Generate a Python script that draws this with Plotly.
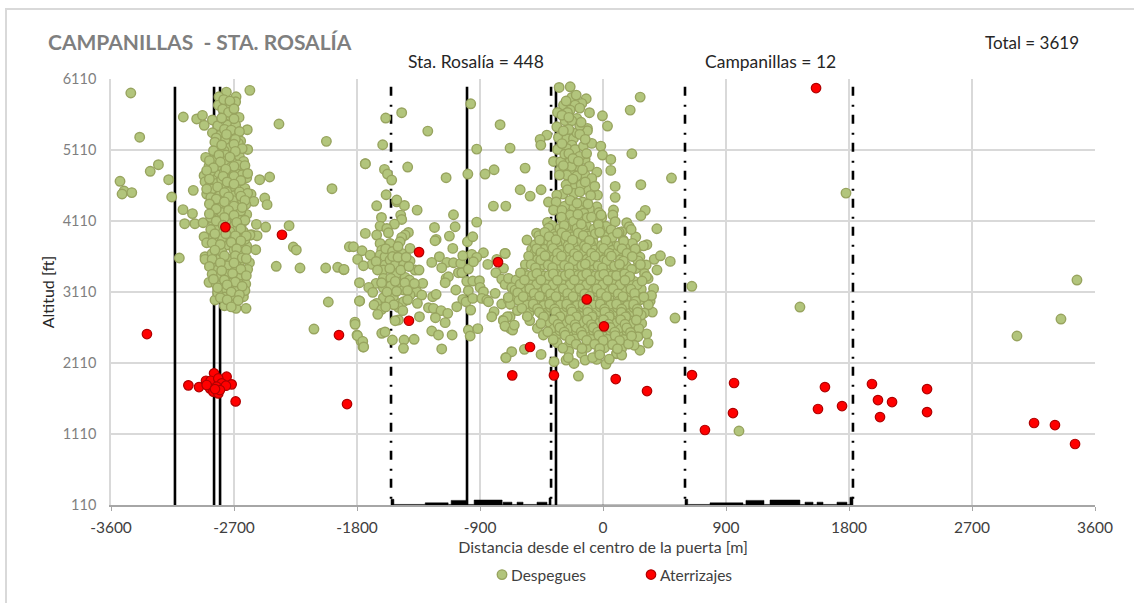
import plotly.graph_objects as go

FONT = "Lato"
x_ticks = [-3600, -2700, -1800, -900, 0, 900, 1800, 2700, 3600]
x_labels = ["-3600", "-2700", "-1800", "-900", "0", "900", "1800", "2700", "3600"]
y_ticks = [110, 1110, 2110, 3110, 4110, 5110, 6110]
y_labels = ["110", "1110", "2110", "3110", "4110", "5110", "6110"]

solid_x = [-3132, -2846, -2802, -995, -344]
dashdot_x = [-1551, -380, 600, 1829]
line_top = 6000
line_bottom = 110

terrain_x = [-1551, -1551, -1530, -1530, -1301, -1301, -1133, -1133, -1111, -1111, -995, -995, -943, -943, -738, -738, -731, -731, -666, -666, -629, -629, -585, -585, -483, -483, -410, -410, -395, -395, -380, -380,
             600, 600, 620, 620, 783, 783, 1024, 1024, 1046, 1046, 1178, 1178, 1222, 1222, 1441, 1441, 1478, 1478, 1537, 1537, 1566, 1566, 1610, 1610, 1712, 1712, 1785, 1785, 1807, 1807, 1829, 1829]
terrain_y = [110, 190, 190, 118, 118, 140, 140, 118, 118, 175, 175, 118, 118, 180, 180, 118, 118, 150, 150, 118, 118, 150, 150, 118, 118, 150, 150, 118, 118, 210, 210, 110,
             110, 190, 190, 118, 118, 140, 140, 118, 118, 175, 175, 118, 118, 180, 180, 118, 118, 150, 150, 118, 118, 150, 150, 118, 118, 150, 150, 118, 118, 220, 220, 110]

dep_left_outliers = [(-3455,5913),(-3390,5290),(-3253,4903),(-3313,4810),(-3178,4692),(-3534,4669),(-3504,4532),(-3519,4490),(-3448,4510),(-3156,4448),(-2998,4542),(-3073,4270),(-3004,4214),(-3061,4072),(-2986,4072),(-2926,4086),(-3100,3589),(-3071,5575),(-2973,5547),(-2931,5598),(-2858,5533),(-2918,5458),
 (-2371,5476),(-2603,5396),(-2584,5950),(-2024,5232),(-1983,4565),(-1739,4917),(-2512,4692),(-2439,4730),(-2475,4434),(-2458,4340),(-2536,4063),(-2468,4025),(-2297,4044),(-2266,3743),(-2244,3702),(-2391,3472),(-2217,3448),(-2029,3448),(-1941,3458),(-1897,3424),(-2010,2969),(-1780,2983),(-2575,4487),(-2555,4387),(-2570,3917),(-2531,3903),(-2541,3706),(-2115,2588),(-1815,2686),(-1800,2504),(-1771,2419),(-1756,2335)]

dep_left_column = [(-2756,5925),(-2685,5860),(-2688,5789),(-2810,5860),(-2814,5742),(-2761,5752),(-2724,5719),(-2783,5686),(-2729,5592),(-2663,5569),(-2746,5461),(-2688,5461),(-2819,5452),(-2858,5353),(-2797,5320),(-2717,5306),(-2766,5250),(-2651,5236),(-2814,5165),(-2729,5142),(-2668,5203),(-2600,5118),(-2773,5100),(-2907,5006),(-2839,5015),(-2700,4977),(-2661,5024),(-2883,4884),(-2790,4874),(-2656,4837),(-2627,4827),(-2919,4748),(-2851,4804),(-2741,4724),(-2814,4757),(-2912,4663),(-2858,4687),(-2607,4719),(-2680,4687),(-2778,4569),(-2717,4593),(-2827,4640),(-2900,4489),(-2839,4499),(-2636,4499),(-2807,4466),(-2700,4466),(-2753,4522),(-2863,4311),(-2802,4325),(-2741,4358),(-2680,4349),(-2614,4344),(-2851,4241),(-2761,4217),(-2692,4255),(-2607,4203),(-2802,4161),(-2644,4147),(-2851,4086),(-2717,4109),(-2648,4044),(-2802,3936),(-2729,4030),(-2631,3959),(-2919,3889),(-2900,3804),(-2736,3875),(-2680,3879),(-2583,3912),(-2831,3757),(-2753,3771),(-2607,3757),(-2656,3795),(-2802,3607),(-2729,3574),(-2912,3607),(-2912,3570),(-2851,3513),(-2656,3546),(-2587,3523),(-2778,3433),(-2705,3429),(-2600,3429),(-2883,3246),(-2831,3222),(-2729,3302),(-2656,3278),(-2614,3222),(-2705,3194),(-2778,3138),(-2839,2997),(-2680,3138),(-2631,3044),(-2709,2988),(-2770,2917),(-2612,2880),(-2685,2880),
 (-2760,5040),(-2835,4960),(-2760,4950),(-2630,4950),(-2720,4870),(-2870,4810),(-2770,4800),(-2690,4790),(-2880,4590),(-2790,4690),(-2650,4620),(-2620,4570),(-2860,4560),(-2760,4430),(-2640,4410),(-2840,4390),(-2710,4400),(-2790,4230),(-2650,4250),(-2730,4170),(-2870,4160),(-2760,4100),(-2840,4010),(-2680,3980),(-2790,3860),(-2850,3880),(-2620,3850),(-2700,3700),(-2790,3680),(-2860,3650),(-2630,3650),(-2750,3480),(-2820,3420),(-2680,3470),(-2740,3360),(-2800,3330),(-2650,3350),(-2700,3060),(-2770,3040),(-2620,3130),(-2820,3100),
 (-2775,5820),(-2730,5800),(-2740,5640),(-2700,5690),(-2790,5560),(-2700,5550),(-2770,5400),(-2720,5390),(-2660,5370),(-2830,5280),(-2755,5330),(-2690,5260),(-2840,5220),(-2790,5180),(-2700,5190),(-2640,5130),(-2850,5100),(-2690,5090),(-2810,5040),(-2730,5010),(-2880,4960),(-2670,4900),(-2800,4940),(-2700,4880),(-2850,4860),(-2620,4890),(-2760,4840),(-2900,4820),(-2640,4760),(-2780,4740),(-2700,4740),(-2600,4780),(-2880,4700),(-2750,4660),(-2650,4680),(-2820,4590),(-2700,4630),(-2900,4560),(-2770,4510),(-2660,4520),(-2600,4500),(-2870,4440),(-2740,4450),(-2650,4460),(-2830,4420),(-2770,4380),(-2620,4400),(-2880,4350),(-2700,4320),(-2640,4300),(-2830,4280),(-2740,4260),(-2880,4210),(-2700,4190),(-2770,4160),(-2620,4120),(-2830,4110),(-2680,4090),(-2780,4050),(-2650,4000),(-2870,3990),(-2730,3960),(-2610,3900),(-2840,3930),(-2760,3930),(-2690,3900),(-2650,3830),(-2720,3810),(-2860,3800),(-2800,3780),(-2610,3700),(-2680,3720),(-2770,3620),(-2840,3700),(-2690,3620),(-2640,3590),(-2860,3570),(-2800,3520),(-2700,3520),(-2610,3580),(-2880,3470),(-2650,3430),(-2790,3410),(-2710,3370),(-2860,3360),(-2610,3340),(-2770,3280),(-2690,3250),(-2850,3290),(-2640,3190),(-2750,3210),(-2820,3170),(-2720,3110),(-2660,3070),(-2800,3030),(-2750,3000),(-2670,2990),(-2720,2900)]

dep_mid_left = [(-1656,4324),(-1509,4380),(-1453,4329),(-1360,4263),(-1621,4160),(-1480,4193),(-1473,4132),(-1526,4066),(-1631,4038),(-1582,4005),(-1739,3935),(-1656,3912),(-1570,3944),(-1424,3949),(-1448,3912),(-1473,3879),(-1485,3818),(-1558,3794),(-1631,3794),(-1619,3700),(-1631,3630),(-1856,3747),(-1826,3747),(-1763,3691),(-1795,3569),(-1704,3630),(-1690,3499),(-1753,3480),(-1895,3428),(-1595,3607),(-1595,3489),(-1607,3419),(-1558,3560),(-1473,3654),(-1412,3724),(-1478,3546),(-1412,3546),(-1521,3489),(-1460,3489),(-1375,3419),(-1346,3419),(-1509,3372),(-1607,3302),(-1553,3302),(-1448,3316),(-1416,3278),(-1504,3232),(-1660,3232),(-1782,3241),(-1714,3175),(-1685,3105),(-1607,3170),(-1553,3194),(-1460,3138),(-1399,3161),(-1319,3232),(-1363,3114),(-1326,3067),(-1412,3067),(-1534,3034),(-1607,3030),(-1656,2950),(-1675,2927),(-1619,2866),(-1648,2795),(-1485,2950),(-1460,2973),(-1497,2894),(-1465,2847),(-1358,2950),(-1246,3044),(-1221,3077),(-1497,2716),(-1521,2706),(-1343,2762),(-1782,2983),(-1814,2655),(-1797,2495),(-1758,2415),(-1751,2336),(-1619,2528),(-1595,2547),(-1541,2434),(-1382,2444),(-1456,2434),(-1460,2317),
 (-1590,3720),(-1540,3680),(-1500,3750),(-1660,3540),(-1540,3610),(-1500,3600),(-1440,3600),(-1650,3420),(-1560,3440),(-1480,3420),(-1420,3470),(-1620,3240),(-1520,3260),(-1450,3240),(-1380,3230),(-1580,3110),(-1510,3120),(-1430,3130),(-1560,2990),(-1430,3000),(-1530,2930),(-1590,2900)]

dep_mid_right = [(-1233,4019),(-1094,4198),(-924,4094),(-1082,4029),(-1124,3897),(-1221,3851),(-1229,3832),(-1099,3724),(-1253,3527),(-1197,3607),(-1143,3527),(-1094,3522),(-1041,3513),(-1180,3452),(-1058,3382),(-1033,3382),(-985,3433),(-992,3818),(-953,3888),(-875,3663),(-960,3640),(-1026,3621),(-924,3597),(-948,3536),(-1148,3302),(-1131,3325),(-1155,3241),(-1077,3138),(-997,3260),(-953,3264),(-904,3269),(-899,3175),(-875,3114),(-985,3128),(-1026,3006),(-1002,2973),(-1070,2903),(-953,3020),(-887,3020),(-850,2997),(-789,3091),(-843,3499),(-777,3569),(-716,3654),(-728,3443),(-784,3382),(-741,3292),(-716,3217),(-692,3302),(-838,2973),(-741,2941),(-797,2833),(-814,2762),(-968,2856),(-1277,2889),(-1241,2880),(-1185,2847),(-1136,2809),(-1226,2748),(-1155,2678),(-1253,2561),(-1204,2505),(-1104,2505),(-985,2575),(-916,2594),(-972,2491),(-1180,2308),(-802,4320),(-711,4320),(-728,2716),(-716,2631),(-680,2598),(-711,2186),(-680,2762),(-692,2997)]

dep_upper = [(-1590,5560),(-1473,5635),(-1282,5376),(-1612,5184),(-1739,4916),(-1599,4837),(-1429,4870),(-1577,4771),(-1546,4687),(-1148,4720),(-989,4771),(-968,5761),(-924,5123),(-753,5466),(-680,5137),(-797,4832),(-863,4771),(-570,4855),(-606,4550),(-533,4461),(-453,4550),(-1587,4480),(-1509,4405)]

dep_tower = [(-321,5991),(-240,6000),(-228,5850),(-196,5883),(-123,5832),(-155,5766),(-204,5742),(-289,5742),(-240,5672),(-333,5639),(-260,5639),(-192,5555),(-277,5522),(-228,5522),(-99,5635),(-4,5592),(33,5447),(-114,5414),(-114,5381),(-338,5437),(-411,5320),(-460,5259),(-455,5179),(-326,5287),(-265,5273),(-216,5273),(-192,5353),(-228,5179),(-265,5132),(-204,5118),(-143,5165),(-82,5203),(-16,5165),(-333,5118),(-4,5039),(57,4977),(-131,4977),(-240,4968),(-362,4949),(-309,4945),(-314,4827),(-240,4827),(-179,4874),(57,4823),(-45,4799),(-131,4757),(-192,4743),(-265,4757),(-319,4757),(-82,4710),(-209,4630),(-123,4555),(89,4597),(-40,4475),(89,4443),(-211,4499),(-294,4489),(-338,4475),(-399,4377),(-343,4377),(-45,4311),(-148,4377),(-216,4311),(-167,4264),(77,4264),(72,4194),(-9,4161),(-114,4180),(-179,4170),(-240,4194),(-406,4090),(89,4100),(-362,4264),
 (-250,5400),(-170,5450),(-280,5050),(-170,5020),(-120,5060),(-230,4880),(-100,4880),(-270,4620),(-160,4620),(-60,4600),(-280,4320),(-100,4280),
 (-270,5800),(-170,5700),(-300,5600),(-250,5570),(-160,5500),(-290,5380),(-170,5330),(-130,5260),(-300,5200),(-250,5060),(-220,4990),(-180,4950),(-290,4890),(-150,4830),(-220,4700),(-130,4660),(-260,4550),(-170,4520),(-90,4470),(-240,4400),(-110,4350),(-190,4360),(-300,4260),(-140,4220),(-30,4230)]

dep_right_sparse = [(272,5855),(199,5672),(211,5057),(501,4715),(277,4621),(309,4260),(277,4184),(394,4001),(174,4086),(192,4030),(138,3959),(240,3884),(321,3776),(492,3541),(375,3570),(370,3157),(650,3190),(1778,4503),(527,2743),(1441,2898),(3029,2490),(3351,2729),(3468,3278),(995,1152),(361,2827),(283,2668),(320,2520),(330,3300),(395,3420),(345,2980),(420,3620),(355,3060),(330,2390),(270,2290)]

dep_main_cloud = [(-372,4045),(-296,4128),(-248,4032),(-161,4118),(-121,4042),(-38,4112),(22,4036),
 (-486,3938),(-398,4012),(-352,3928),(-271,4002),(-238,3918),(-150,4008),(-112,3926),(-26,4002),(33,3915),(118,3950),(206,3990),
 (-556,3842),(-470,3904),(-431,3822),(-347,3893),(-314,3812),(-226,3888),(-191,3806),(-106,3898),(-72,3815),(18,3890),(55,3806),(148,3842),(215,3795),
 (-522,3708),(-466,3792),(-428,3712),(-336,3790),(-302,3702),(-218,3782),(-182,3698),(-92,3790),(-58,3704),(34,3782),(68,3698),(160,3735),(230,3700),(296,3760),
 (-497,3672),(-462,3600),(-376,3678),(-343,3596),(-256,3672),(-222,3588),(-136,3674),(-102,3594),(-16,3680),(22,3596),(108,3672),(142,3590),(242,3662),(270,3602),
 (-568,3496),(-478,3568),(-443,3490),(-356,3570),(-322,3484),(-238,3562),(-202,3478),(-116,3570),(-78,3484),(9,3564),(42,3480),(128,3562),(168,3486),(256,3548),(316,3490),
 (-585,3376),(-496,3452),(-462,3370),(-376,3448),(-344,3364),(-256,3454),(-218,3368),(-131,3450),(-98,3364),(-6,3452),(28,3370),(115,3448),(152,3364),(240,3442),(304,3370),
 (-636,3278),(-548,3342),(-514,3260),(-426,3338),(-394,3254),(-301,3340),(-268,3260),(-181,3344),(-148,3254),(-56,3338),(-24,3260),(64,3338),(102,3254),(190,3332),(228,3260),(318,3328),
 (-668,3172),(-576,3140),(-544,3224),(-456,3146),(-424,3230),(-336,3140),(-304,3224),(-211,3146),(-178,3230),(-91,3146),(-58,3230),(29,3146),(68,3224),(154,3146),(192,3226),(280,3150),
 (-654,3050),(-566,3032),(-534,3114),(-446,3036),(-414,3120),(-321,3030),(-288,3114),(-201,3036),(-164,3120),(-76,3036),(-44,3114),(44,3036),(82,3114),(170,3030),(206,3110),(290,3036),
 (-678,2938),(-586,3008),(-554,2926),(-466,3004),(-434,2920),(-346,3010),(-314,2926),(-226,3004),(-189,2920),(-101,3004),(-69,2926),(24,3010),(56,2926),(144,3004),(181,2920),(270,3000),(332,2930),
 (-626,2848),(-541,2816),(-509,2900),(-421,2810),(-384,2894),(-296,2816),(-264,2900),(-176,2810),(-144,2894),(-51,2816),(-19,2900),(69,2810),(106,2890),(194,2810),(226,2890),(302,2815),
 (-536,2708),(-446,2790),(-414,2700),(-326,2784),(-294,2706),(-201,2790),(-169,2700),(-81,2784),(-49,2706),(44,2790),(76,2700),(164,2780),(201,2706),(280,2785),
 (-480,2600),(-391,2680),(-359,2590),(-271,2674),(-239,2596),(-146,2680),(-114,2596),(-26,2674),(11,2590),(99,2674),(131,2590),(219,2670),(262,2596),
 (-436,2505),(-346,2480),(-314,2564),(-226,2480),(-194,2560),(-101,2475),(-69,2560),(19,2480),(56,2560),(144,2480),(176,2555),(255,2480),
 (-336,2395),(-246,2372),(-209,2450),(-121,2365),(-89,2445),(-1,2365),(31,2445),(119,2365),(151,2440),(228,2360),
 (-250,2275),(-156,2245),(-119,2330),(-31,2250),(11,2325),(99,2240),(136,2315),
 (-270,2151),(-212,2104),(-131,2151),(-46,2161),(22,2095),(-358,2128),(100,2245),(137,2222),(186,2377),(-668,2269),(-710,2184),(-575,2302),(-453,2231),(-180,1926),
 (-644,3137),(-693,3034),(-700,2761),(-729,2705),(-717,2630),(-661,2574),(-649,2644),(-717,3653)]

dep_main_fill = [(-216,4105),(-184,4205),(-304,4165),(-116,4155),(-84,4165),(-14,4195),
 (-316,4005),(-284,4045),(-191,4005),(-159,4065),(-66,3995),(-34,4060),(59,3985),
 (-426,3950),(-394,3890),(-301,3945),(-269,3900),(-181,3940),(-144,3905),(-56,3930),(-24,3950),(69,3880),(106,3940),
 (-496,3775),(-464,3840),(-376,3770),(-344,3845),(-256,3760),(-224,3840),(-136,3760),(-99,3835),(-11,3765),(21,3835),(114,3760),(151,3825),
 (-486,3720),(-454,3665),(-366,3725),(-334,3655),(-246,3725),(-209,3650),(-121,3730),(-84,3655),(4,3725),(46,3655),(139,3720),(176,3655),(236,3715),
 (-544,3615),(-456,3560),(-424,3620),(-336,3555),(-304,3615),(-216,3550),(-184,3615),(-96,3545),(-59,3615),(29,3550),(61,3615),(149,3545),(214,3610),
 (-526,3495),(-494,3450),(-401,3490),(-369,3455),(-281,3485),(-249,3455),(-156,3480),(-129,3505),(-36,3480),(-4,3450),(84,3475),(121,3500),(209,3430),(274,3495),
 (-604,3380),(-516,3340),(-484,3370),(-396,3340),(-364,3365),(-276,3340),(-244,3365),(-151,3340),(-119,3365),(-26,3340),(6,3360),(99,3340),(159,3365),(196,3330),
 (-606,3220),(-574,3280),(-486,3215),(-454,3280),(-366,3210),(-334,3275),(-241,3210),(-209,3280),(-121,3210),(-89,3275),(-1,3210),(36,3275),(124,3210),(161,3275),(249,3210),(286,3265),
 (-624,3100),(-536,3155),(-504,3090),(-416,3155),(-384,3085),(-291,3155),(-259,3090),(-171,3155),(-134,3085),(-46,3155),(-14,3090),(74,3155),(111,3085),(204,3150),(231,3090),
 (-616,2990),(-584,3045),(-496,2985),(-464,3050),(-376,2980),(-344,3045),(-256,2980),(-219,3045),(-131,2980),(-99,3050),(-11,2975),(26,3045),(114,2980),(146,3045),(239,2980),(299,3040),
 (-594,2880),(-511,2940),(-479,2875),(-391,2940),(-354,2870),(-266,2940),(-234,2870),(-146,2940),(-114,2870),(-21,2940),(11,2870),(99,2940),(136,2870),(224,2935),(251,2870),
 (-554,2765),(-466,2825),(-434,2760),(-346,2830),(-314,2760),(-226,2830),(-194,2760),(-111,2825),(-79,2760),(14,2830),(46,2760),(134,2825),(166,2760),(254,2825),
 (-454,2665),(-361,2720),(-329,2655),(-241,2720),(-204,2650),(-116,2720),(-84,2650),(4,2720),(41,2655),(129,2720),(161,2655),(244,2715),
 (-404,2550),(-316,2610),(-284,2545),(-196,2610),(-159,2545),(-71,2610),(-39,2545),(54,2610),(86,2545),(174,2605),(201,2540),
 (-364,2440),(-276,2500),(-239,2435),(-151,2500),(-119,2430),(-31,2500),(1,2425),(89,2495),(121,2425),(209,2490),
 (-294,2320),(-196,2375),(-154,2315),(-61,2375),(-24,2315),(69,2370),(106,2310),
 (-254,2185),(-76,2185),(-24,2225),(46,2165)]

dep_groups = [dep_left_outliers, dep_left_column, dep_mid_left, dep_mid_right, dep_upper, dep_tower, dep_right_sparse, dep_main_cloud, dep_main_fill]
dep_x = [p[0] for g in dep_groups for p in g]
dep_y = [p[1] for g in dep_groups for p in g]

arr_x = [-3337,-2763,-2349,-1346,-768,-1420,-119,7,-534,-1932,-1873,-664,-359,93,322,651,746,959,951,1624,1573,1749,1559,1968,2012,2115,2027,2371,2371,3154,3307,3454,
         -3034,-2956,-2905,-2846,-2754,-2717,-2688,-2871,-2815,-2790,-2759,-2876,-2851,-2815,-2827,-2900,-2803,-2839]
arr_y = [2518,4024,3916,3672,3531,2705,3006,2626,2335,2504,1532,1936,1936,1884,1715,1940,1166,1828,1405,1771,1462,1504,5982,1814,1588,1560,1349,1743,1419,1265,1236,969,
         1795,1771,1860,1964,1917,1809,1569,1860,1893,1823,1790,1753,1706,1682,1776,1800,1729,1743]

def px(p):
    return (p - 111) / 984

def py(p):
    return (505 - p) / 426

def vlines(xs):
    lx, ly = [], []
    for x in xs:
        lx += [x, x, None]
        ly += [line_top, line_bottom, None]
    return lx, ly

fig = go.Figure()
sx, sy = vlines(solid_x)
dx, dy = vlines(dashdot_x)
fig.add_trace(go.Scatter(x=sx, y=sy, mode="lines", line=dict(color="black", width=2.6), showlegend=False, hoverinfo="skip"))
fig.add_trace(go.Scatter(x=dx, y=dy, mode="lines", line=dict(color="black", width=2.6, dash="9px,9px,2px,8px"), showlegend=False, hoverinfo="skip"))
fig.add_trace(go.Scatter(x=terrain_x, y=terrain_y, mode="lines", fill="tozeroy", fillcolor="black", line=dict(color="black", width=0.5), showlegend=False, hoverinfo="skip"))
fig.add_trace(go.Scatter(x=dep_x, y=dep_y, mode="markers", name="Despegues",
                         marker=dict(size=9.5, color="#B2C57C", line=dict(color="#98A45F", width=1.4))))
fig.add_trace(go.Scatter(x=arr_x, y=arr_y, mode="markers", name="Aterrizajes",
                         marker=dict(size=9.5, color="#FF0000", line=dict(color="#B00000", width=1.2))))

def note(text, xp, yp, size, color, anchor="left", bold=False):
    fig.add_annotation(text=f"<b>{text}</b>" if bold else text, xref="paper", yref="paper", x=px(xp), y=py(yp),
                       xanchor=anchor, yanchor="middle", showarrow=False, font=dict(family=FONT, size=size, color=color))

note("CAMPANILLAS  - STA. ROSALÍA", 46, 42, 21, "#7F7F7F", bold=True)
note("Total = 3619", 983, 43, 17, "#262626")
note("Sta. Rosalía = 448", 476, 61, 17.5, "#262626", "center")
note("Campanillas = 12", 770, 62, 17.5, "#262626", "center")

fig.add_shape(type="rect", xref="paper", yref="paper", x0=px(6), x1=px(1160), y0=py(640), y1=py(9),
              line=dict(color="#D9D9D9", width=2), layer="below")

fig.update_layout(
    width=1134, height=603, margin=dict(l=111, r=39, t=79, b=98, pad=0),
    paper_bgcolor="white", plot_bgcolor="white", font=dict(family=FONT, size=14, color="#404040"),
    showlegend=True,
    legend=dict(orientation="h", xref="container", yref="container", x=482/1134, y=1-558/603, xanchor="left", yanchor="top",
                entrywidth=104, entrywidthmode="pixels",
                font=dict(family=FONT, size=15.5, color="#404040"), itemsizing="trace", bgcolor="rgba(0,0,0,0)", traceorder="normal"),
    xaxis=dict(range=[-3600, 3600], tickmode="array", tickvals=x_ticks, ticktext=x_labels, showgrid=True, gridcolor="#D9D9D9", gridwidth=1.5,
               zeroline=False, showline=True, linecolor="#A6A6A6", linewidth=1.5, ticks="outside", ticklen=4, tickcolor="#A6A6A6", tickwidth=1,
               ticklabelstandoff=4, tickfont=dict(family=FONT, size=15.5, color="#404040"),
               title=dict(text="Distancia desde el centro de la puerta [m]", standoff=6, font=dict(family=FONT, size=16, color="#404040")), automargin=False),
    yaxis=dict(range=[110, 6110], tickmode="array", tickvals=y_ticks, ticktext=y_labels, showgrid=True, gridcolor="#D9D9D9", gridwidth=1.5,
               zeroline=False, showline=True, linecolor="#D9D9D9", linewidth=1.5, ticks="",
               ticklabelstandoff=10, tickfont=dict(family=FONT, size=14.5, color="#7F7F7F"),
               title=dict(text="Altitud [ft]", standoff=4, font=dict(family=FONT, size=16, color="#262626")), automargin=False),
)

nudge = "document.body.style.margin='0';setTimeout(function(){document.querySelectorAll('.legendtext').forEach(function(t){t.setAttribute('x','29');});},100);"
fig.write_html("out.html", post_script=nudge, config={"displayModeBar": False})
